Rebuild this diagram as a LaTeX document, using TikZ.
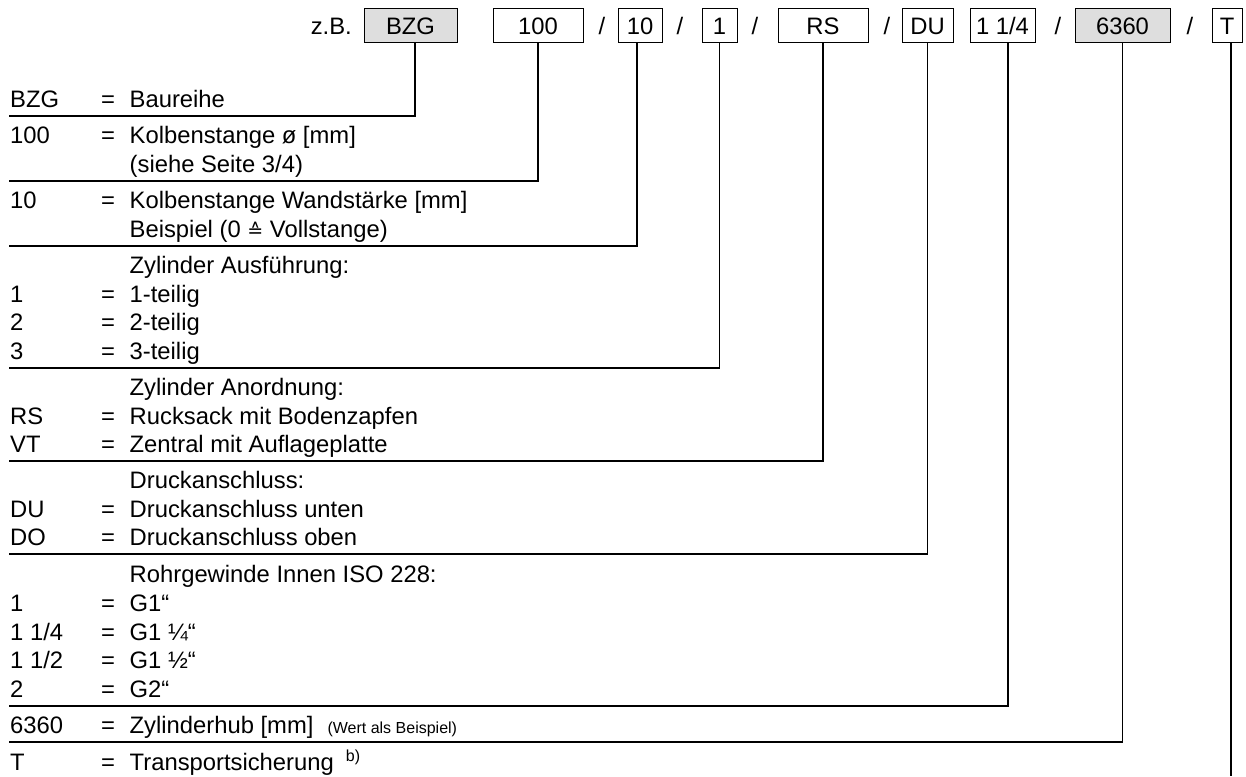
\documentclass[tikz,border=0pt]{standalone}
\usepackage{fontspec}
\setmainfont{Liberation Sans}
\newfontfamily\dvsfont{DejaVu Sans}

\begin{document}
\begin{tikzpicture}[x=1pt,y=-1pt,
  every node/.style={font=\fontsize{23.8}{28}\selectfont, inner sep=0pt},
  codebox/.style={draw, line width=1pt, minimum height=34pt, text height=17pt, text depth=0pt},
  graybox/.style={codebox, fill=black!13},
  key/.style={anchor=base west},
  lead/.style={line width=1.6pt}]
  \useasboundingbox (0,0) rectangle (1246,776);

  % code line at the top
  \node[anchor=base east] (zb) at (352,34.5) {z.B.};
  \node[graybox, minimum width=93pt] (bzg) at (410.5,26) {BZG};
  \node[codebox, minimum width=90pt] (kd) at (538,26) {100};
  \node[anchor=base] (sl1) at (602,34.5) {/};
  \node[codebox, minimum width=44pt] (ws) at (640,26) {10};
  \node[anchor=base] (sl2) at (680,34.5) {/};
  \node[codebox, minimum width=35pt] (ausf) at (719.5,26) {1};
  \node[anchor=base] (sl3) at (755,34.5) {/};
  \node[codebox, minimum width=90pt] (anord) at (823,26) {RS};
  \node[anchor=base] (sl4) at (887,34.5) {/};
  \node[codebox, minimum width=51pt] (dan) at (927.5,26) {DU};
  \node[codebox, minimum width=65pt] (rg) at (1002.5,26) {1 1/4};
  \node[anchor=base] (sl5) at (1058,34.5) {/};
  \node[graybox, minimum width=95pt] (hub) at (1122.5,26) {6360};
  \node[anchor=base] (sl6) at (1190,34.5) {/};
  \node[codebox, minimum width=30pt] (ts) at (1227,26) {T};

  % Baureihe
  \node[key] (k-bzg) at (10,107) {BZG};
  \node[key] (e-bzg) at (101,107) {=};
  \node[key] (d-bzg) at (129.5,107) {Baureihe};
  \coordinate (s-bzg) at (9,116);

  % Kolbenstange
  \node[key] (k-kd) at (10,143) {100};
  \node[key] (e-kd) at (101,143) {=};
  \node[key] (d-kd) at (129.5,143) {Kolbenstange ø [mm]};
  \node[key] (d-kd2) at (129.5,172) {(siehe Seite 3/4)};
  \coordinate (s-kd) at (9,181);

  \node[key] (k-ws) at (10,208) {10};
  \node[key] (e-ws) at (101,208) {=};
  \node[key] (d-ws) at (129.5,208) {Kolbenstange Wandstärke [mm]};
  \node[key] (d-ws2) at (129.5,237) {Beispiel (0 {\dvsfont\fontsize{19}{20}\selectfont ≙} Vollstange)};
  \coordinate (s-ws) at (9,246);

  % Zylinder
  \node[key] (h-ausf) at (129.5,273) {Zylinder Ausführung:};
  \node[key] (k-ausf1) at (10,302) {1};
  \node[key] (e-ausf1) at (101,302) {=};
  \node[key] (d-ausf1) at (129.5,302) {1-teilig};
  \node[key] (k-ausf2) at (10,330) {2};
  \node[key] (e-ausf2) at (101,330) {=};
  \node[key] (d-ausf2) at (129.5,330) {2-teilig};
  \node[key] (k-ausf3) at (10,359) {3};
  \node[key] (e-ausf3) at (101,359) {=};
  \node[key] (d-ausf3) at (129.5,359) {3-teilig};
  \coordinate (s-ausf) at (9,368);

  \node[key] (h-anord) at (129.5,395) {Zylinder Anordnung:};
  \node[key] (k-rs) at (10,424) {RS};
  \node[key] (e-rs) at (101,424) {=};
  \node[key] (d-rs) at (129.5,424) {Rucksack mit Bodenzapfen};
  \node[key] (k-vt) at (10,452) {VT};
  \node[key] (e-vt) at (101,452) {=};
  \node[key] (d-vt) at (129.5,452) {Zentral mit Auflageplatte};
  \coordinate (s-anord) at (9,461);

  % Anschluss
  \node[key] (h-dan) at (129.5,488) {Druckanschluss:};
  \node[key] (k-du) at (10,517) {DU};
  \node[key] (e-du) at (101,517) {=};
  \node[key] (d-du) at (129.5,517) {Druckanschluss unten};
  \node[key] (k-do) at (10,545) {DO};
  \node[key] (e-do) at (101,545) {=};
  \node[key] (d-do) at (129.5,545) {Druckanschluss oben};
  \coordinate (s-dan) at (9,554);

  \node[key] (h-rg) at (129.5,582) {Rohrgewinde Innen ISO 228:};
  \node[key] (k-rg1) at (10,611) {1};
  \node[key] (e-rg1) at (101,611) {=};
  \node[key] (d-rg1) at (129.5,611) {G1“};
  \node[key] (k-rg2) at (10,640) {1 1/4};
  \node[key] (e-rg2) at (101,640) {=};
  \node[key] (d-rg2) at (129.5,640) {G1 ¼“};
  \node[key] (k-rg3) at (10,668) {1 1/2};
  \node[key] (e-rg3) at (101,668) {=};
  \node[key] (d-rg3) at (129.5,668) {G1 ½“};
  \node[key] (k-rg4) at (10,697) {2};
  \node[key] (e-rg4) at (101,697) {=};
  \node[key] (d-rg4) at (129.5,697) {G2“};
  \coordinate (s-rg) at (9,706);

  % Hub, Sicherung
  \node[key] (k-hub) at (10,733) {6360};
  \node[key] (e-hub) at (101,733) {=};
  \node[key] (d-hub) at (129.5,733) {Zylinderhub [mm]\hspace{14pt}{\fontsize{16}{18}\selectfont(Wert als Beispiel)}};
  \coordinate (s-hub) at (9,742);

  \node[key] (k-ts) at (10,770) {T};
  \node[key] (e-ts) at (101,770) {=};
  \node[key] (d-ts) at (129.5,770) {Transportsicherung\hspace{12pt}\raisebox{9pt}{\fontsize{16}{18}\selectfont b)}};
  \coordinate (s-ts) at (1231,776);

  % leader lines
  \draw[lead] ([xshift=4.5pt]bzg.south) |- (s-bzg);
  \draw[lead] (kd.south) |- (s-kd);
  \draw[lead] ([xshift=-3pt]ws.south) |- (s-ws);
  \draw[lead] (ausf.south) |- (s-ausf);
  \draw[lead] (anord.south) |- (s-anord);
  \draw[lead] (dan.south) |- (s-dan);
  \draw[lead] ([xshift=5.5pt]rg.south) |- (s-rg);
  \draw[lead] (hub.south) |- (s-hub);
  \draw[lead] ([xshift=4pt]ts.south) -- (s-ts);
\end{tikzpicture}
\end{document}
